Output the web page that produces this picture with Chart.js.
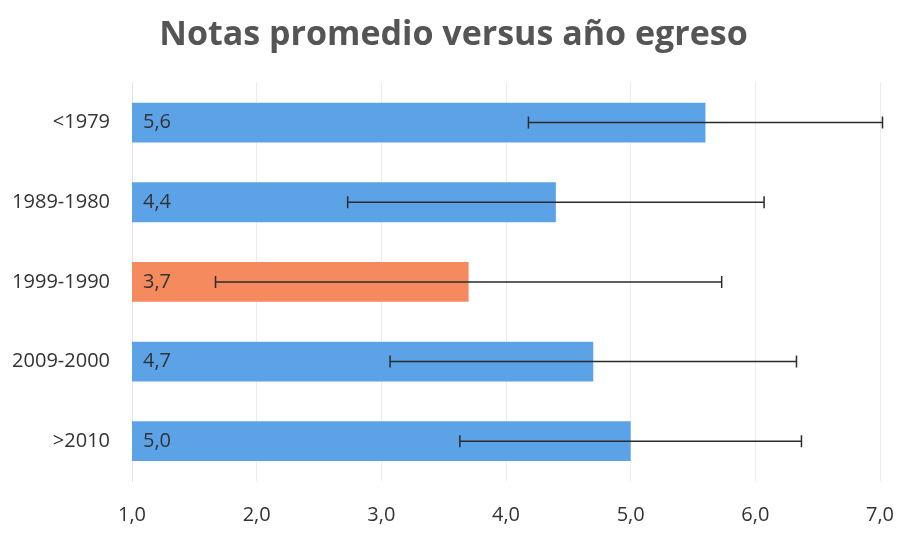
<!DOCTYPE html>
<html>
<head>
<meta charset="utf-8">
<script src="https://cdn.jsdelivr.net/npm/chart.js@4/dist/chart.umd.min.js"></script>
<style>
  html, body { margin: 0; padding: 0; background: #fff; }
  #wrap { width: 900px; height: 534px; position: relative; }
</style>
</head>
<body>
<div id="wrap"><canvas id="chart"></canvas></div>
<script>
const categories = ['<1979', '1989-1980', '1999-1990', '2009-2000', '>2010']
const averages = [5.6, 4.4, 3.7, 4.7, 5.0]
const deviations = [1.42, 1.67, 2.03, 1.63, 1.37]
const barColors = ['#5ba3e6', '#5ba3e6', '#f58a5e', '#5ba3e6', '#5ba3e6']
const xTicks = [1, 2, 3, 4, 5, 6, 7]

const fmt = v => v.toFixed(1).replace('.', ',')

// error bars + value labels drawn through the scales
const errorBars = {
  id: 'errorBars',
  afterDatasetsDraw(chart) {
    const { ctx, scales: { x, y } } = chart
    ctx.save()
    categories.forEach((c, i) => {
      const cy = y.getPixelForValue(i)
      const lo = x.getPixelForValue(averages[i] - deviations[i])
      const hi = x.getPixelForValue(averages[i] + deviations[i])
      ctx.strokeStyle = '#2b2b2b'
      ctx.lineWidth = 1.5
      ctx.beginPath()
      ctx.moveTo(lo, cy); ctx.lineTo(hi, cy)
      ctx.moveTo(lo, cy - 6); ctx.lineTo(lo, cy + 6)
      ctx.moveTo(hi, cy - 6); ctx.lineTo(hi, cy + 6)
      ctx.stroke()

      ctx.fillStyle = '#333'
      ctx.font = '20px "Open Sans", sans-serif'
      ctx.textAlign = 'left'
      ctx.textBaseline = 'middle'
      ctx.fillText(fmt(averages[i]), x.getPixelForValue(1) + 11, cy)
    })
    ctx.restore()
  }
}

new Chart(document.getElementById('chart'), {
  type: 'bar',
  data: {
    labels: categories,
    datasets: [{
      data: averages,
      backgroundColor: barColors,
      borderWidth: 0,
      barPercentage: 0.5,
      categoryPercentage: 1,
    }]
  },
  options: {
    indexAxis: 'y',
    responsive: true,
    maintainAspectRatio: false,
    animation: false,
    layout: { padding: { left: 12, right: 5, top: 15, bottom: 6 } },
    plugins: {
      legend: { display: false },
      tooltip: { enabled: false },
      title: {
        display: true,
        text: 'Notas promedio versus año egreso',
        color: '#555',
        font: { family: 'Open Sans, sans-serif', size: 34, weight: 'bold' },
        padding: { top: 0, bottom: 27 },
      },
    },
    scales: {
      x: {
        min: 1,
        max: 7,
        afterBuildTicks: axis => { axis.ticks = xTicks.map(v => ({ value: v })) },
        afterFit: s => { s.paddingLeft = 0; s.paddingRight = 20; s.height = 47 },
        grid: { color: '#ececec', drawTicks: false },
        border: { display: false },
        ticks: {
          color: '#333',
          padding: 22,
          font: { family: 'Open Sans, sans-serif', size: 20 },
          callback: v => fmt(v),
        },
      },
      y: {
        afterFit: s => { s.paddingTop = 0; s.paddingBottom = 0; s.width = 120 },
        grid: { display: false },
        border: { color: '#e4e4e4' },
        ticks: {
          color: '#333',
          padding: 14,
          font: { family: 'Open Sans, sans-serif', size: 20 },
        },
      },
    },
  },
  plugins: [errorBars],
})
</script>
</body>
</html>
